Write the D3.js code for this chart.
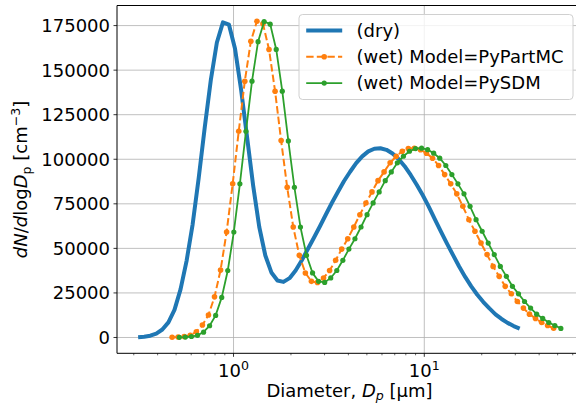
<!DOCTYPE html>
<html><head><meta charset="utf-8">
<script src="https://cdn.jsdelivr.net/npm/d3@7"></script>
<style>
body{margin:0;background:#fff}
svg{display:block}
text{font-family:"DejaVu Sans",sans-serif;fill:#000}
</style>
</head><body><div id="chart"></div>
<script>
// ---- data ----
const dryDiameter = [0.3162,0.3401,0.3660,0.3937,0.4236,0.4557,0.4903,0.5275,0.5675,0.6105,0.6568,0.7067,0.7603,0.8179,0.8800,0.9467,1.0184,1.0957,1.1788,1.2682,1.3644,1.4678,1.5792,1.6989,1.8278,1.9664,2.1155,2.2760,2.4486,2.6343,2.8341,3.0490,3.2803,3.5290,3.7967,4.0846,4.3944,4.7277,5.0862,5.4720,5.8870,6.3335,6.8138,7.3306,7.8866,8.4848,9.1283,9.8206,10.566,11.367,12.229,13.157,14.155,15.228,16.383,17.626,18.963,20.401,21.948,23.613,25.404,27.330,29.403,31.623];
const dryValues = [200,450,1000,2200,4500,8500,15500,27000,43000,63500,89500,118000,144500,165500,176800,175500,162000,139000,112000,85000,62000,46000,36500,32000,31200,33300,37600,43200,49500,55800,62300,69000,75600,81800,87800,93000,97800,101600,104400,105900,106200,105300,103200,100200,96100,91200,85700,79800,73300,66300,59400,52700,46200,39800,34000,28700,24000,19900,16300,13000,10400,8200,6400,5000];

const pyPartMCDiameter = [0.4765,0.5125,0.5516,0.5933,0.6384,0.6867,0.7389,0.7949,0.8552,0.9200,0.9898,1.0650,1.1458,1.2326,1.3262,1.4267,1.5347,1.6512,1.7765,1.9112,2.0562,2.2120,2.3799,2.5602,2.7545,2.9634,3.1881,3.4299,3.6900,3.9699,4.2710,4.5948,4.9434,5.3182,5.7216,6.1555,6.6224,7.1246,7.6649,8.2463,8.8717,9.5446,10.269,11.047,11.885,12.787,13.756,14.800,15.923,17.130,18.429,19.828,21.332,22.949,24.689,26.562,28.577,30.744,33.076,35.585,38.284,41.186,44.310,47.656];
const pyPartMCValues = [100,250,550,1200,3200,7000,12600,22800,37800,59200,86200,115700,143800,166200,177400,176000,161600,138200,110500,84300,62000,46100,36200,31500,30900,33400,37600,43300,49600,55400,62000,68900,75500,81700,88000,92900,98000,101700,104500,106000,106200,105400,103400,100600,96500,91400,86200,80600,73600,66100,59600,53000,46500,39900,34300,28700,24500,20200,16500,13100,10700,8500,6700,5200];

const pySDMDiameter = [0.5198,0.5591,0.6017,0.6472,0.6964,0.7492,0.8060,0.8672,0.9330,1.0037,1.0798,1.1618,1.2499,1.3446,1.4467,1.5564,1.6742,1.8013,1.9380,2.0849,2.2431,2.4131,2.5962,2.7930,3.0049,3.2328,3.4779,3.7417,4.0255,4.3308,4.6593,5.0126,5.3928,5.8017,6.2418,6.7151,7.2244,7.7723,8.3617,8.9960,9.6782,10.412,11.202,12.052,12.966,13.949,15.007,16.145,17.371,18.687,20.104,21.630,23.271,25.035,26.934,28.977,31.175,33.539,36.083,38.820,41.764,44.931,48.339,51.988];
const pySDMValues = [100,250,550,1200,3000,6600,12400,22500,37600,59200,86200,115700,143800,166000,177300,175800,161600,138200,110300,84300,62000,46100,36200,31500,30900,33400,37600,43300,49600,55400,62000,68900,75500,81700,88000,92900,98000,101700,104500,106000,106200,105400,103400,100600,96500,91400,86200,80600,73600,66100,59600,53000,46500,39900,34300,28700,24500,20200,16500,13100,10700,8400,6700,5100];

const seriesLabels = ["(dry)", "(wet) Model=PyPartMC", "(wet) Model=PySDM"];
const yTickValues = [0,25000,50000,75000,100000,125000,150000,175000];
const xTickValues = [1,10];
const xTickExponents = ["0","1"];

// ---- layout ----
const W = 576, H = 403;
const plot = {left:117, right:582, top:5.5, bottom:353.3};
const FS = 18;

const svg = d3.select("#chart").append("svg").attr("width", W).attr("height", H);

// scales with 5% margins (log space for x)
const allD = dryDiameter.concat(pyPartMCDiameter, pySDMDiameter);
const lx0 = Math.log10(d3.min(allD)), lx1 = Math.log10(d3.max(allD));
const padX = 0.05*(lx1-lx0);
const x = d3.scaleLog().domain([Math.pow(10, lx0-padX), Math.pow(10, lx1+padX)]).range([plot.left, plot.right]);
const allV = dryValues.concat(pyPartMCValues, pySDMValues);
const vMax = d3.max(allV), vMin = 0;
const padY = 0.05*(vMax-vMin);
const y = d3.scaleLinear().domain([vMin-padY, vMax+padY]).range([plot.bottom, plot.top]);

// grid
const grid = svg.append("g").attr("stroke","#b0b0b0").attr("stroke-width",0.8);
yTickValues.forEach(v => grid.append("line").attr("x1",plot.left).attr("x2",plot.right).attr("y1",y(v)).attr("y2",y(v)));
xTickValues.forEach(v => grid.append("line").attr("x1",x(v)).attr("x2",x(v)).attr("y1",plot.top).attr("y2",plot.bottom));

// clip
svg.append("clipPath").attr("id","clip").append("rect")
  .attr("x",plot.left).attr("y",plot.top).attr("width",plot.right-plot.left).attr("height",plot.bottom-plot.top);
const g = svg.append("g").attr("clip-path","url(#clip)");

function zip(ds, vs){ return ds.map((d,i)=>({D:d, v:vs[i]})); }
const line = d3.line().x(d=>x(d.D)).y(d=>y(d.v));

const dry = zip(dryDiameter, dryValues);
const pm = zip(pyPartMCDiameter, pyPartMCValues);
const sd = zip(pySDMDiameter, pySDMValues);

g.append("path").datum(dry).attr("d",line).attr("fill","none").attr("stroke","#1f77b4").attr("stroke-width",4).attr("stroke-linejoin","round").attr("stroke-linecap","butt");
g.append("path").datum(pm).attr("d",line).attr("fill","none").attr("stroke","#ff7f0e").attr("stroke-width",2).attr("stroke-dasharray","7.4,3.2");
g.selectAll("circle.pm").data(pm).enter().append("circle").attr("class","pm")
  .attr("cx",d=>x(d.D)).attr("cy",d=>y(d.v)).attr("r",2.8).attr("fill","#ff7f0e");
g.append("path").datum(sd).attr("d",line).attr("fill","none").attr("stroke","#2ca02c").attr("stroke-width",1.8);
g.selectAll("circle.sd").data(sd).enter().append("circle").attr("class","sd")
  .attr("cx",d=>x(d.D)).attr("cy",d=>y(d.v)).attr("r",2.6).attr("fill","#2ca02c");

// spines
const sp = svg.append("g").attr("stroke","#000").attr("stroke-width",1).attr("fill","none");
sp.append("line").attr("x1",plot.left).attr("x2",plot.left).attr("y1",plot.top).attr("y2",plot.bottom);
sp.append("line").attr("x1",plot.left).attr("x2",plot.right).attr("y1",plot.bottom).attr("y2",plot.bottom);
sp.append("line").attr("x1",plot.left).attr("x2",plot.right).attr("y1",plot.top).attr("y2",plot.top);
sp.append("line").attr("x1",plot.right).attr("x2",plot.right).attr("y1",plot.top).attr("y2",plot.bottom);

// y axis ticks
const yAx = svg.append("g");
yTickValues.forEach(v => {
  yAx.append("line").attr("x1",plot.left-3.5).attr("x2",plot.left).attr("y1",y(v)).attr("y2",y(v)).attr("stroke","#000").attr("stroke-width",0.8);
  yAx.append("text").attr("x",plot.left-7).attr("y",y(v)).attr("dy","0.36em").attr("text-anchor","end")
    .attr("font-size",FS).text(d3.format("d")(v));
});

// x axis major ticks
const xAx = svg.append("g");
xTickValues.forEach((v,i) => {
  xAx.append("line").attr("x1",x(v)).attr("x2",x(v)).attr("y1",plot.bottom).attr("y2",plot.bottom+3.5).attr("stroke","#000").attr("stroke-width",0.8);
  const t = xAx.append("text").attr("x",x(v)).attr("y",plot.bottom+23.5).attr("text-anchor","middle").attr("font-size",FS);
  t.append("tspan").text("10");
  t.append("tspan").attr("dy",-7).attr("font-size",12.6).text(xTickExponents[i]);
});
// minor ticks
const [d0, d1] = x.domain();
for (let e=-1; e<=2; e++) for (let k=2; k<=9; k++) {
  const v = k*Math.pow(10,e);
  if (v>=d0 && v<=d1) xAx.append("line").attr("x1",x(v)).attr("x2",x(v)).attr("y1",plot.bottom).attr("y2",plot.bottom+2).attr("stroke","#000").attr("stroke-width",0.6);
}

// axis labels
const xl = svg.append("text").attr("x",(plot.left+plot.right)/2).attr("y",396.5).attr("text-anchor","middle").attr("font-size",FS);
xl.append("tspan").text("Diameter, ");
xl.append("tspan").attr("font-style","italic").text("D");
xl.append("tspan").attr("font-style","italic").attr("font-size",12.6).attr("dy",3).text("p");
xl.append("tspan").attr("dy",-3).text(" [μm]");

const yl = svg.append("text").attr("transform",`translate(27,${(plot.top+plot.bottom)/2}) rotate(-90)`).attr("text-anchor","middle").attr("font-size",FS);
yl.append("tspan").attr("font-style","italic").text("dN");
yl.append("tspan").text("/");
yl.append("tspan").attr("font-style","italic").text("d");
yl.append("tspan").text("log");
yl.append("tspan").attr("font-style","italic").text("D");
yl.append("tspan").attr("font-size",12.6).attr("dy",3.5).text("p");
yl.append("tspan").attr("dy",-3.5).text(" [cm");
yl.append("tspan").attr("font-size",12.6).attr("dy",-7.5).text("−3");
yl.append("tspan").attr("dy",7.5).text("]");

// legend
const lg = svg.append("g");
const lgRight = plot.right-9, lgTop = plot.top+9;
const lgW = 274, lgH = 85;
lg.append("rect").attr("x",lgRight-lgW).attr("y",lgTop).attr("width",lgW).attr("height",lgH).attr("rx",3.6)
  .attr("fill","#fff").attr("fill-opacity",0.8).attr("stroke","#d0d0d0").attr("stroke-width",1);
const hx0 = lgRight-lgW+7.2, hx1 = hx0+36, tx = hx1+14.4;
const styles = [
  {c:"#1f77b4", w:4, dash:null, m:0},
  {c:"#ff7f0e", w:2, dash:"7.4,3.2", m:2.8},
  {c:"#2ca02c", w:1.8, dash:null, m:2.6}
];
seriesLabels.forEach((lab,i) => {
  const cy = lgTop+16 + i*26.3;
  const s = styles[i];
  const ln = lg.append("line").attr("x1",hx0).attr("x2",hx1).attr("y1",cy).attr("y2",cy).attr("stroke",s.c).attr("stroke-width",s.w);
  if (s.dash) ln.attr("stroke-dasharray",s.dash);
  if (s.m) lg.append("circle").attr("cx",(hx0+hx1)/2).attr("cy",cy).attr("r",s.m).attr("fill",s.c);
  lg.append("text").attr("x",tx).attr("y",cy).attr("dy","0.35em").attr("font-size",FS).text(lab);
});
</script>
</body></html>
